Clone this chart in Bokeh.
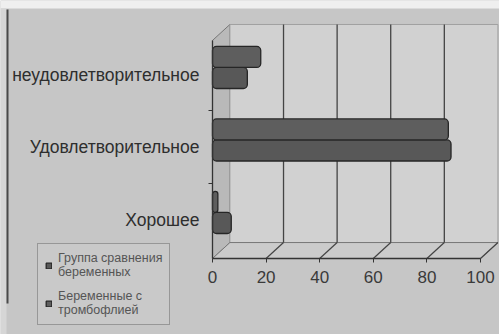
from bokeh.plotting import figure
from bokeh.models import (ColumnDataSource, Range1d, FixedTicker, Legend, LegendItem)
from bokeh.embed import file_html
from bokeh.resources import INLINE

# ---- data ----
categories = ["Хорошее", "Удовлетворительное", "неудовлетворительное"]
series_names = ["Группа сравнения\nбеременных", "Беременные с\nтромбофлией"]
comparison = [7, 89, 13]      # Группа сравнения беременных (lower bar in group)
thrombophilia = [2, 88, 18]   # Беременные с тромбофлией (upper bar in group)
x_ticks = [0, 20, 40, 60, 80, 100]

# ---- layout / style constants ----
W, H = 499, 334
PX_PER_X = 2.68      # px per value unit
X0_PX = 212          # pixel column of value 0 (front)
PX_PER_Y = 72.5      # px per category step
Y0_PX = 219          # pixel row of first category
DX = 6.5             # depth offset in x (data units)
DY = 0.22            # depth offset in y (data units)
Y_LO, Y_HI = -0.538, 2.69
BAR_H = 0.29
LIFT = 0.097
FONT = "Liberation Sans"

x_start = -X0_PX / PX_PER_X
x_end = (W - X0_PX) / PX_PER_X
y_start = -(H - Y0_PX) / PX_PER_Y
y_end = Y0_PX / PX_PER_Y

p = figure(width=W, height=H, output_backend="svg", toolbar_location=None,
           x_range=Range1d(x_start, x_end), y_range=Range1d(y_start, y_end),
           min_border=0)
p.background_fill_color = "#c6c6c6"
p.border_fill_color = "#c6c6c6"
p.outline_line_color = None
p.xgrid.visible = False
p.ygrid.visible = False

# scan edges: light strip at top, lighter margin and dark line at left
p.quad(left=[x_start], right=[x_end], bottom=[y_end - 8 / PX_PER_Y], top=[y_end],
       fill_color="#efefef", line_color=None)
p.quad(left=[x_start], right=[x_start + 6 / PX_PER_X], bottom=[y_start],
       top=[y_end - 8 / PX_PER_Y], fill_color="#d6d6d6", line_color=None)
p.segment(x0=[x_start + 7 / PX_PER_X], x1=[x_start + 7 / PX_PER_X],
          y0=[y_end - 9 / PX_PER_Y], y1=[y_end - 303 / PX_PER_Y],
          line_color="#4a4a4a", line_width=2)

# 3D box decoration: side wall, back wall, floor
back_bottom = Y_LO + DY
p.patch([0, DX, DX, 0], [Y_LO, back_bottom, Y_HI, Y_HI - DY],
        fill_color="#b9b9b9", line_color="#777777", line_width=1)
p.quad(left=[DX], right=[100 + DX], bottom=[back_bottom], top=[Y_HI],
       fill_color="#d1d1d1", line_color="#a0a0a0", line_width=1)
p.patch([0, 100, 100 + DX, DX], [Y_LO, Y_LO, back_bottom, back_bottom],
        fill_color="#cbcbcb", line_color="#777777", line_width=1)
grid_x = x_ticks[1:-1]
p.segment(x0=[v + DX for v in grid_x], y0=[back_bottom] * len(grid_x),
          x1=[v + DX for v in grid_x], y1=[Y_HI] * len(grid_x),
          line_color="#444444", line_width=1.3)
p.segment(x0=x_ticks[1:], y0=[Y_LO] * 5, x1=[v + DX for v in x_ticks[1:]],
          y1=[back_bottom] * 5, line_color="#444444", line_width=1.2)

# bars
ypos = list(range(len(categories)))
src_c = ColumnDataSource(dict(y=[y + LIFT - BAR_H / 2 for y in ypos], right=comparison))
src_t = ColumnDataSource(dict(y=[y + LIFT + BAR_H / 2 for y in ypos], right=thrombophilia))
r_c = p.hbar(y="y", right="right", left=0, height=BAR_H, source=src_c,
             fill_color="#585858", line_color="#262626", line_width=1.3,
             border_radius=4)
r_t = p.hbar(y="y", right="right", left=0, height=BAR_H, source=src_t,
             fill_color="#5e5e5e", line_color="#262626", line_width=1.3,
             border_radius=4)

# axes placed at fixed locations inside the frame
p.xaxis.fixed_location = Y_LO
p.xaxis.ticker = FixedTicker(ticks=x_ticks)
p.xaxis.bounds = (0, 100)
p.xaxis.axis_line_color = "#333333"
p.xaxis.axis_line_width = 1.3
p.xaxis.major_tick_line_color = "#333333"
p.xaxis.major_tick_out = 4
p.xaxis.major_tick_in = 0
p.xaxis.minor_tick_line_color = None
p.xaxis.major_label_standoff = 8
p.xaxis.major_label_text_font = FONT
p.xaxis.major_label_text_font_size = "17px"
p.xaxis.major_label_text_color = "#3a3a3a"

p.yaxis.fixed_location = 0
p.yaxis.ticker = FixedTicker(ticks=ypos, minor_ticks=[0.5, 1.5])
p.yaxis.bounds = (Y_LO, Y_HI - DY)
p.yaxis.major_label_overrides = {i: c for i, c in enumerate(categories)}
p.yaxis.axis_line_color = "#333333"
p.yaxis.axis_line_width = 1.3
p.yaxis.major_tick_line_color = None
p.yaxis.minor_tick_line_color = "#333333"
p.yaxis.minor_tick_out = 4
p.yaxis.minor_tick_in = 0
p.yaxis.major_label_standoff = 7
p.yaxis.major_label_text_font = FONT
p.yaxis.major_label_text_font_size = "17.5px"
p.yaxis.major_label_text_color = "#2e2e2e"

legend = Legend(items=[LegendItem(label=series_names[0], renderers=[r_c]),
                       LegendItem(label=series_names[1], renderers=[r_t])],
                location=(37, 9))
legend.label_text_font = FONT
legend.label_text_font_size = "12.5px"
legend.label_text_color = "#555555"
legend.label_text_line_height = 1.3
legend.label_standoff = 6
legend.glyph_width = 7
legend.glyph_height = 7
legend.spacing = 10
legend.padding = 7
legend.margin = 0
legend.border_line_color = "#666666"
legend.background_fill_color = "#c9c9c9"
legend.background_fill_alpha = 1
p.add_layout(legend, "center")

open("out.html", "w").write(file_html(p, INLINE))
